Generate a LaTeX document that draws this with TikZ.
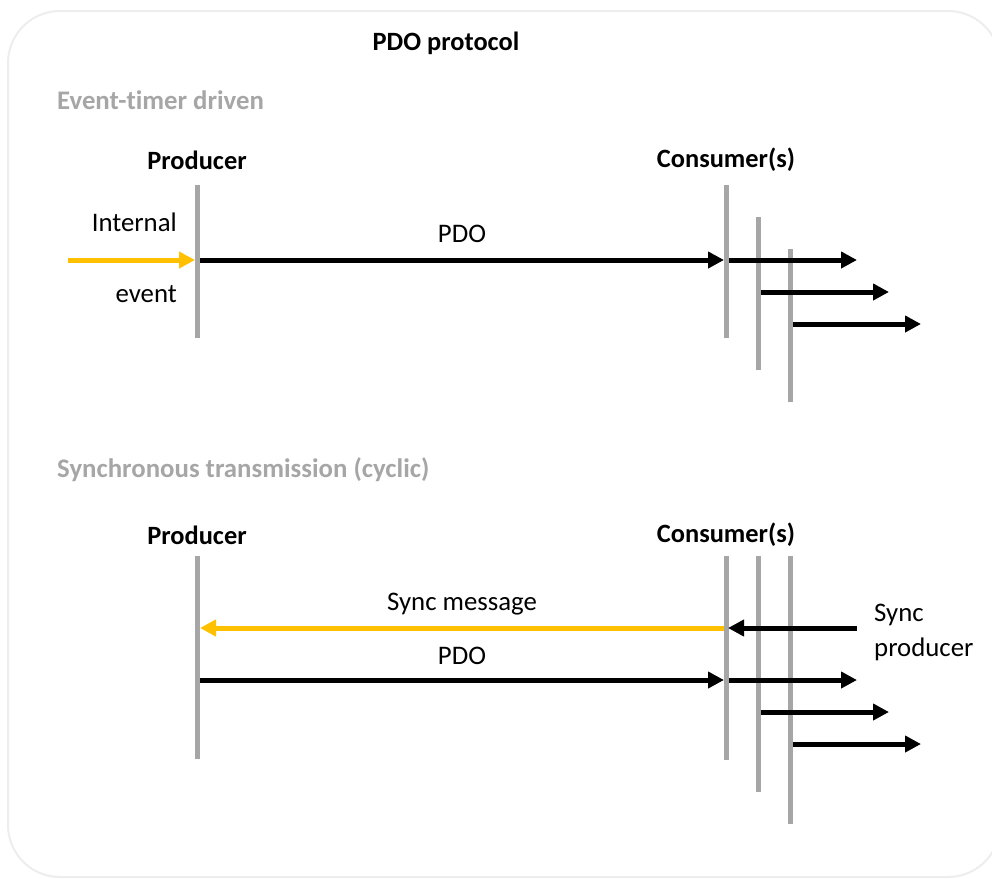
\documentclass[tikz,border=0pt]{standalone}
\usepackage{fontspec}
\setmainfont{Carlito}[Ligatures=NoCommon]
\usepackage{xcolor}
\usetikzlibrary{arrows.meta}
\definecolor{lanegray}{HTML}{A6A6A6}
\definecolor{syncorange}{HTML}{FFC000}
\definecolor{framegray}{HTML}{EDEDED}

\begin{document}
\begin{tikzpicture}[
  x=1pt, y=-1pt,
  >={Triangle[length=16pt, width=16pt]},
  lane/.style={draw=lanegray, line width=5pt},
  msg/.style={->, line width=5pt, black},
  trig/.style={->, line width=5pt, syncorange},
  txt/.style={font=\fontsize{26.8}{35}\selectfont, inner sep=0pt},
  head/.style={font=\fontsize{26.4}{32}\selectfont\bfseries, inner sep=0pt},
  sect/.style={font=\fontsize{26.8}{32}\selectfont\bfseries, text=lanegray, inner sep=0pt, anchor=west}
]
  \useasboundingbox (0,0) rectangle (992,878);
  \draw[framegray, line width=2pt, rounded corners=52pt] (8,11) rectangle (1000,877);

  % titles
  \node[head] (title) at (446,43) {PDO protocol};
  \node[sect] (sec1) at (57,100) {Event-timer driven};
  \node[sect] (sec2) at (57,470) {Synchronous transmission (cyclic)};

  % event-timer driven
  \node[head] (prod1) at (197,160) {Producer};
  \node[head] (cons1) at (726,160) {Consumer(s)};
  \coordinate (p1t) at (197,185);  \coordinate (p1b) at (197,338);
  \coordinate (c1t) at (726,185);  \coordinate (c1b) at (726,338);
  \coordinate (c2t) at (758,217);  \coordinate (c2b) at (758,370);
  \coordinate (c3t) at (790,249);  \coordinate (c3b) at (790,402);
  \draw[lane] (p1t) -- (p1b);
  \draw[lane] (c1t) -- (c1b);
  \draw[lane] (c2t) -- (c2b);
  \draw[lane] (c3t) -- (c3b);

  \coordinate (evin)  at (68,260);
  \coordinate (evhit) at (195,260);
  \coordinate (pdoa)  at (200,260);
  \coordinate (pdob)  at (724,260);
  \coordinate (o1a) at (729,260); \coordinate (o1b) at (857,260);
  \coordinate (o2a) at (761,292); \coordinate (o2b) at (889,292);
  \coordinate (o3a) at (793,324); \coordinate (o3b) at (921,324);
  \node[txt, anchor=east] (intl) at (177,222) {Internal};
  \node[txt, anchor=east] (evnt) at (177,294) {event};
  \node[txt] (pdolbl1) at (462,234) {PDO};
  \draw[trig] (evin) -- (evhit);
  \draw[msg] (pdoa) -- (pdob);
  \draw[msg] (o1a) -- (o1b);
  \draw[msg] (o2a) -- (o2b);
  \draw[msg] (o3a) -- (o3b);

  % synchronous transmission
  \node[head] (prod2) at (197,535) {Producer};
  \node[head] (cons2) at (726,535) {Consumer(s)};
  \coordinate (p2t) at (197,556);  \coordinate (p2b) at (197,759);
  \coordinate (d1t) at (726,556);  \coordinate (d1b) at (726,760);
  \coordinate (d2t) at (758,556);  \coordinate (d2b) at (758,792);
  \coordinate (d3t) at (790,556);  \coordinate (d3b) at (790,824);
  \draw[lane] (p2t) -- (p2b);
  \draw[lane] (d1t) -- (d1b);
  \draw[lane] (d2t) -- (d2b);
  \draw[lane] (d3t) -- (d3b);

  \coordinate (sya) at (724,628);  \coordinate (syb) at (200,628);
  \coordinate (spa) at (857,628);  \coordinate (spb) at (728,628);
  \coordinate (pd2a) at (200,680); \coordinate (pd2b) at (724,680);
  \coordinate (q1a) at (729,680); \coordinate (q1b) at (857,680);
  \coordinate (q2a) at (761,712); \coordinate (q2b) at (889,712);
  \coordinate (q3a) at (793,744); \coordinate (q3b) at (921,744);
  \node[txt] (synclbl) at (462,604) {Sync message};
  \node[txt] (pdolbl2) at (462,656) {PDO};
  \node[txt, anchor=west, align=left] (syncprod) at (874,632) {Sync\\producer};
  \draw[trig] (sya) -- (syb);
  \draw[msg] (spa) -- (spb);
  \draw[msg] (pd2a) -- (pd2b);
  \draw[msg] (q1a) -- (q1b);
  \draw[msg] (q2a) -- (q2b);
  \draw[msg] (q3a) -- (q3b);
\end{tikzpicture}
\end{document}
